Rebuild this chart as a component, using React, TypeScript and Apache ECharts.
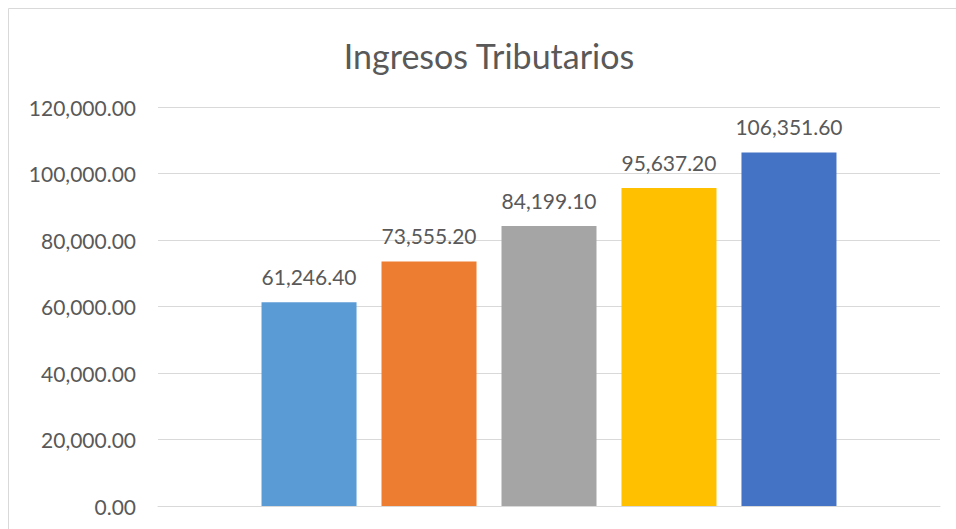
import React, { useEffect, useRef } from "react";
import * as echarts from "echarts";

const title = "Ingresos Tributarios";
const categories = [""];
const seriesNames = ["Serie 1", "Serie 2", "Serie 3", "Serie 4", "Serie 5"];
const seriesValues = [61246.4, 73555.2, 84199.1, 95637.2, 106351.6];
const seriesColors = ["#5B9BD5", "#ED7D31", "#A5A5A5", "#FFC000", "#4472C4"];
const yTicks = { min: 0, max: 120000, interval: 20000 };

const fmt = (v: number) =>
  v.toLocaleString("en-US", { minimumFractionDigits: 2, maximumFractionDigits: 2 });

const FONT = "Lato, 'Open Sans', sans-serif";
const TEXT = "#595959";

export default function App() {
  const ref = useRef<HTMLDivElement>(null);
  useEffect(() => {
    if (!ref.current) return;
    const chart = echarts.init(ref.current, undefined, { renderer: "svg" });
    chart.setOption({
      animation: false,
      backgroundColor: "#ffffff",
      textStyle: { fontFamily: FONT },
      grid: { left: 158, right: 16, top: 107, bottom: 23, containLabel: false },
      xAxis: {
        type: "category",
        data: categories,
        axisLine: { show: true, lineStyle: { color: "#d9d9d9", width: 1 } },
        axisTick: { show: false },
        axisLabel: { show: false },
      },
      yAxis: {
        type: "value",
        min: yTicks.min,
        max: yTicks.max,
        interval: yTicks.interval,
        axisLine: { show: false },
        axisTick: { show: false },
        splitLine: { lineStyle: { color: "#d9d9d9", width: 1 } },
        axisLabel: {
          color: TEXT,
          fontSize: 21,
          fontFamily: FONT,
          margin: 22,
          formatter: (v: number) => fmt(v),
        },
      },
      graphic: [
        {
          type: "line",
          shape: { x1: 8.5, y1: 8.5, x2: 8.5, y2: 529 },
          style: { stroke: "#d9d9d9", lineWidth: 1 },
        },
        {
          type: "line",
          shape: { x1: 8.5, y1: 8.5, x2: 956, y2: 8.5 },
          style: { stroke: "#d9d9d9", lineWidth: 1 },
        },
        {
          type: "text",
          x: 489,
          y: 55,
          style: {
            text: title,
            fill: TEXT,
            fontSize: 34,
            fontFamily: FONT,
            textAlign: "center",
            textVerticalAlign: "middle",
          },
        },
      ],
      series: seriesNames.map((name, i) => ({
        type: "bar",
        name,
        data: [seriesValues[i]],
        barWidth: 95,
        barGap: "26.3%",
        itemStyle: { color: seriesColors[i] },
        label: {
          show: true,
          position: "top",
          distance: 15,
          color: TEXT,
          fontSize: 21,
          fontFamily: FONT,
          formatter: (p: any) => fmt(p.value),
        },
      })),
    });
    return () => chart.dispose();
  }, []);
  return (
    <div
      ref={ref}
      style={{ position: "fixed", left: 0, top: 0, width: 956, height: 529 }}
    />
  );
}
